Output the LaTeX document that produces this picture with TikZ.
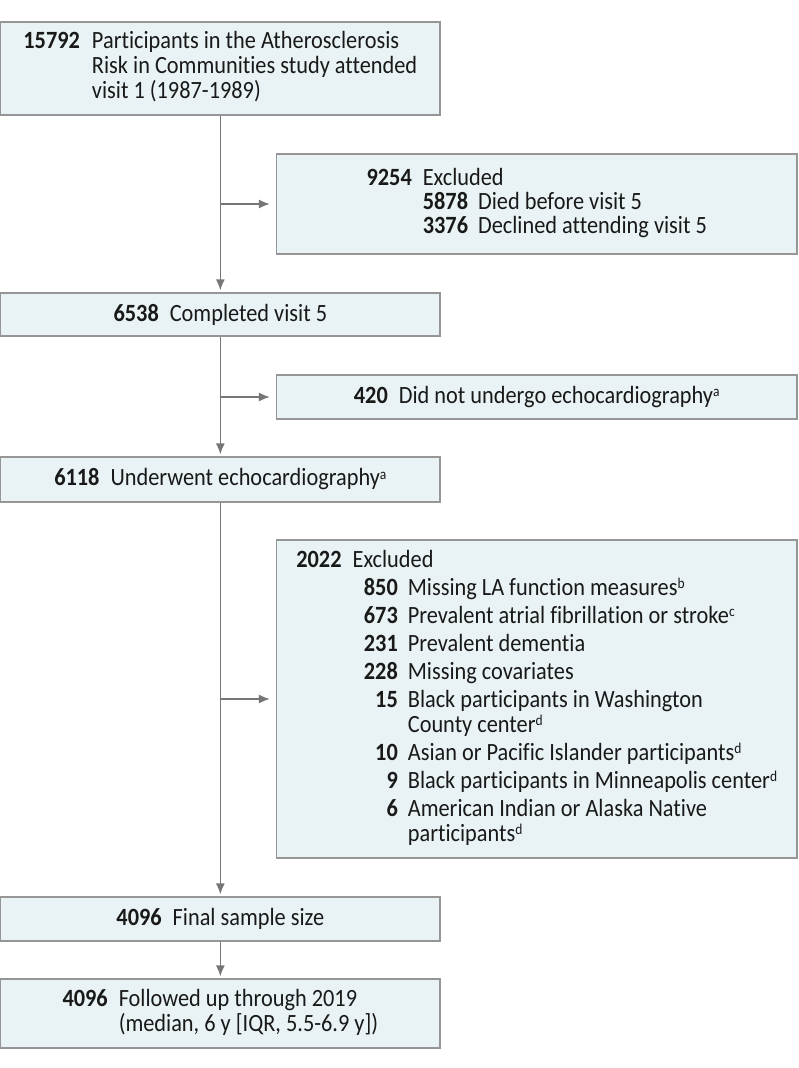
\documentclass[tikz,border=0pt]{standalone}
\usepackage{fontspec}
\setmainfont{Carlito}[FakeStretch=0.9,Ligatures=NoCommon]
\usetikzlibrary{arrows.meta}

\definecolor{boxfill}{RGB}{233,243,245}
\definecolor{boxline}{RGB}{150,150,150}
\definecolor{flowgray}{RGB}{118,118,118}
\newcommand{\subno}[1]{\hphantom{\textbf{0000}}\llap{\textbf{#1}}}
\newcommand{\fnmark}[1]{\smash{\raisebox{6.5pt}{\fontsize{15}{15}\selectfont #1}}}

\begin{document}
\begin{tikzpicture}[x=1pt,y=-1pt,
  flowbox/.style={draw=boxline,fill=boxfill,line width=1.3pt,inner sep=0pt,
    font=\fontsize{24.8}{23.5}\selectfont,text=black!90},
  mainbox/.style={flowbox,minimum width=439.3pt},
  sidebox/.style={flowbox,minimum width=520.5pt},
  flow/.style={draw=flowgray,line width=1.4pt,-{Latex[length=11pt,width=9pt]},shorten >=2pt},
  ]
\useasboundingbox (0,0) rectangle (798,1068);

% main column
\node[mainbox,minimum height=93pt] (visit1) at (220.35,68.5)
  {\begin{tabular}{@{}r@{\hspace{12pt}}l@{}}
   \textbf{15792} & Participants in the Atherosclerosis\\
   & Risk in Communities study attended\\
   & visit 1 (1987-1989)
   \end{tabular}};
\node[mainbox,minimum height=43pt] (visit5) at (220.35,314.5)
  {\textbf{6538}\hspace{11pt}Completed visit 5};
\node[mainbox,minimum height=45pt] (echo) at (220.35,479.5)
  {\textbf{6118}\hspace{11pt}Underwent echocardiography\fnmark{a}};
\node[mainbox,minimum height=44pt] (final) at (220.35,919)
  {\textbf{4096}\hspace{11pt}Final sample size};
\node[mainbox,minimum height=69pt] (followup) at (220.35,1013.5)
  {\begin{tabular}{@{}r@{\hspace{11pt}}l@{}}
   \textbf{4096} & Followed up through 2019\\
   & (median, 6 y [IQR, 5.5-6.9 y])
   \end{tabular}};

% exclusions
\node[sidebox,minimum height=100pt,font=\fontsize{24.8}{22}\selectfont] (excl1) at (536.75,204)
  {\begin{tabular}{@{}r@{\hspace{11pt}}r@{\hspace{10pt}}l@{}}
   \textbf{9254} & \multicolumn{2}{@{}l@{}}{Excluded}\\
   & \textbf{5878} & Died before visit 5\\
   & \textbf{3376} & Declined attending visit 5
   \end{tabular}};
\node[sidebox,minimum height=44pt] (excl2) at (536.75,397)
  {\textbf{420}\hspace{11pt}Did not undergo echocardiography\fnmark{a}};
\node[sidebox,minimum height=318pt,font=\fontsize{24.8}{25}\selectfont] (excl3) at (536.75,699)
  {\begin{tabular}{@{}r@{\hspace{11pt}}r@{\hspace{10pt}}l@{}}
   \textbf{2022} & \multicolumn{2}{@{}l@{}}{Excluded}\\[3pt]
   & \subno{850} & Missing LA function measures\fnmark{b}\\[3pt]
   & \subno{673} & Prevalent atrial fibrillation or stroke\fnmark{c}\\[3pt]
   & \subno{231} & Prevalent dementia\\[3pt]
   & \subno{228} & Missing covariates\\[3pt]
   & \subno{15} & Black participants in Washington\\
   & & County center\fnmark{d}\\[3pt]
   & \subno{10} & Asian or Pacific Islander participants\fnmark{d}\\[3pt]
   & \subno{9} & Black participants in Minneapolis center\fnmark{d}\\[3pt]
   & \subno{6} & American Indian or Alaska Native\\
   & & participants\fnmark{d}
   \end{tabular}};

% connectors
\coordinate (split1) at (220.35,204);
\coordinate (split2) at (220.35,397);
\coordinate (split3) at (220.35,699);

\draw[flow] (visit1) -- (visit5);
\draw[flow] (visit5) -- (echo);
\draw[flow] (echo) -- (final);
\draw[flow] (final) -- (followup);

\draw[flow,shorten >=6pt] (split1) -- (excl1);
\draw[flow,shorten >=6pt] (split2) -- (excl2);
\draw[flow,shorten >=6pt] (split3) -- (excl3);

\end{tikzpicture}
\end{document}
